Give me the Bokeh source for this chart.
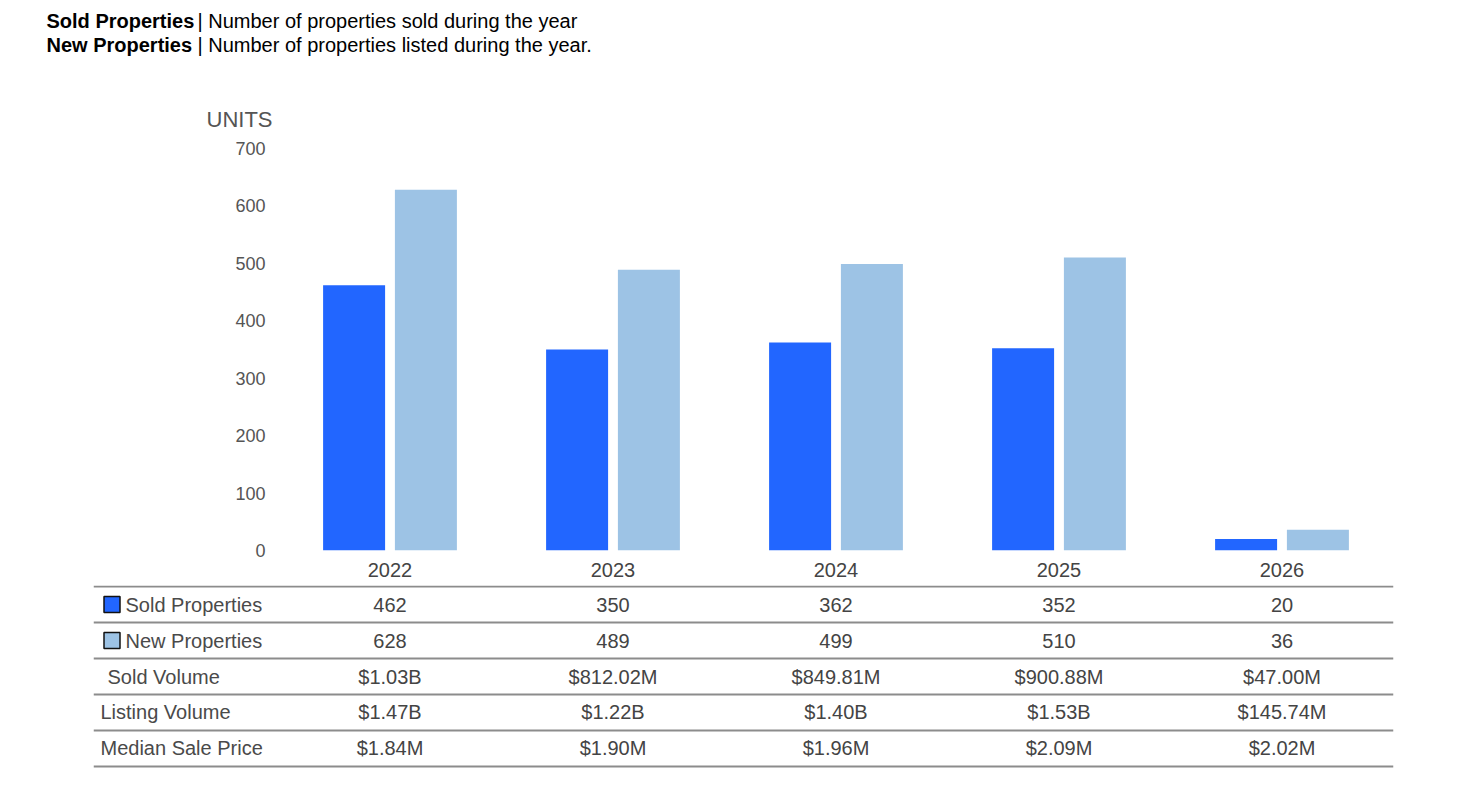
from bokeh.plotting import figure
from bokeh.layouts import column
from bokeh.models import ColumnDataSource, Range1d, FactorRange, FixedTicker
from bokeh.transform import dodge
from bokeh.core.properties import value
from bokeh.embed import file_html
from bokeh.resources import INLINE

# ---------------- data ----------------
years = ["2022", "2023", "2024", "2025", "2026"]
sold_properties = [462, 350, 362, 352, 20]
new_properties = [628, 489, 499, 510, 36]
sold_volume = ["$1.03B", "$812.02M", "$849.81M", "$900.88M", "$47.00M"]
listing_volume = ["$1.47B", "$1.22B", "$1.40B", "$1.53B", "$145.74M"]
median_sale_price = ["$1.84M", "$1.90M", "$1.96M", "$2.09M", "$2.02M"]
row_labels = ["Sold Properties", "New Properties", "Sold Volume", "Listing Volume", "Median Sale Price"]
y_ticks = [0, 100, 200, 300, 400, 500, 600, 700]
header_bold = ["Sold Properties", "New Properties"]
header_text = ["| Number of properties sold during the year", "| Number of properties listed during the year."]

SOLD_C = "#2266ff"
NEW_C = "#9dc3e5"
FONT = value("Liberation Sans")
W = 1454

# ---------------- header ----------------
hdr = figure(width=W, height=138, x_range=Range1d(0, W), y_range=Range1d(138, 0),
             output_backend="svg", toolbar_location=None, min_border=0, frame_align=False,
             x_axis_type=None, y_axis_type=None, outline_line_color=None)
hdr.grid.visible = False
hsrc = ColumnDataSource(dict(b=header_bold, t=header_text, y=[20, 44]))
hdr.text(x=46, y="y", text="b", source=hsrc, text_font=FONT, text_font_size="20px",
         text_font_style="bold", text_color="#000000", text_baseline="middle")
hdr.text(x=197, y="y", text="t", source=hsrc, text_font=FONT, text_font_size="20px",
         text_color="#000000", text_baseline="middle")
hdr.text(x=[206], y=[119], text=["UNITS"], text_font=FONT, text_font_size="22px",
         text_color="#555555", text_baseline="middle")

# ---------------- bars ----------------
bsrc = ColumnDataSource(dict(year=years, sold=sold_properties, new=new_properties))
bars = figure(width=W, height=447, x_range=FactorRange(*years), y_range=Range1d(0, 700),
              output_backend="svg", toolbar_location=None, frame_align=False,
              min_border_left=278, min_border_right=61, min_border_top=10, min_border_bottom=35,
              outline_line_color=None)
bars.grid.visible = False
bars.vbar(x=dodge("year", -0.161, range=bars.x_range), top="sold", width=0.278,
          source=bsrc, fill_color=SOLD_C, line_color=None)
bars.vbar(x=dodge("year", 0.161, range=bars.x_range), top="new", width=0.278,
          source=bsrc, fill_color=NEW_C, line_color=None)
bars.yaxis.ticker = FixedTicker(ticks=y_ticks)
for ax in (bars.xaxis[0], bars.yaxis[0]):
    ax.axis_line_color = None
    ax.major_tick_line_color = None
    ax.minor_tick_line_color = None
    ax.major_tick_out = 0
    ax.major_label_text_font = "Liberation Sans"
bars.yaxis.major_label_text_font_size = "18px"
bars.yaxis.major_label_text_color = "#555555"
bars.yaxis.major_label_standoff = 13
bars.xaxis.major_label_text_font_size = "20px"
bars.xaxis.major_label_text_color = "#444444"
bars.xaxis.major_label_standoff = 12

# ---------------- table ----------------
ppu = (W - 278 - 61) / len(years)
x0 = -(278 - 93) / ppu
x1 = x0 + (W - 93 - 61) / ppu
tab = figure(width=W, height=200, x_range=Range1d(x0, x1), y_range=Range1d(5.0278, -0.5278),
             output_backend="svg", toolbar_location=None, frame_align=False,
             min_border_left=93, min_border_right=61, min_border_top=0, min_border_bottom=0,
             x_axis_type=None, y_axis_type=None, outline_line_color=None)
tab.grid.visible = False

tab.hspan(y=[i - 0.5 for i in range(len(row_labels) + 1)], line_color="#8c8c8c", line_width=2)

rows = [[str(v) for v in sold_properties], [str(v) for v in new_properties],
        sold_volume, listing_volume, median_sale_price]
cx, cy, ct = [], [], []
for r, vals in enumerate(rows):
    for c, v in enumerate(vals):
        cx.append(c + 0.5)
        cy.append(r)
        ct.append(v)
tab.text(x=cx, y=cy, text=ct, text_font=FONT, text_font_size="20px", text_color="#444444",
         text_align="center", text_baseline="middle")

label_offsets = [32, 32, 14, 7, 7]
for r, lab in enumerate(row_labels):
    tab.text(x=[x0], y=[r], text=[lab], x_offset=label_offsets[r], text_font=FONT,
             text_font_size="20px", text_color="#4a4a4a", text_baseline="middle")

tab.rect(x=[x0 + 18.5 / ppu] * 2, y=[0, 1], width=16, height=16,
         width_units="screen", height_units="screen",
         fill_color=[SOLD_C, NEW_C], line_color="#111111", line_width=1.5)

layout = column(hdr, bars, tab, spacing=0)
open("out.html", "w").write(file_html(layout, INLINE))
